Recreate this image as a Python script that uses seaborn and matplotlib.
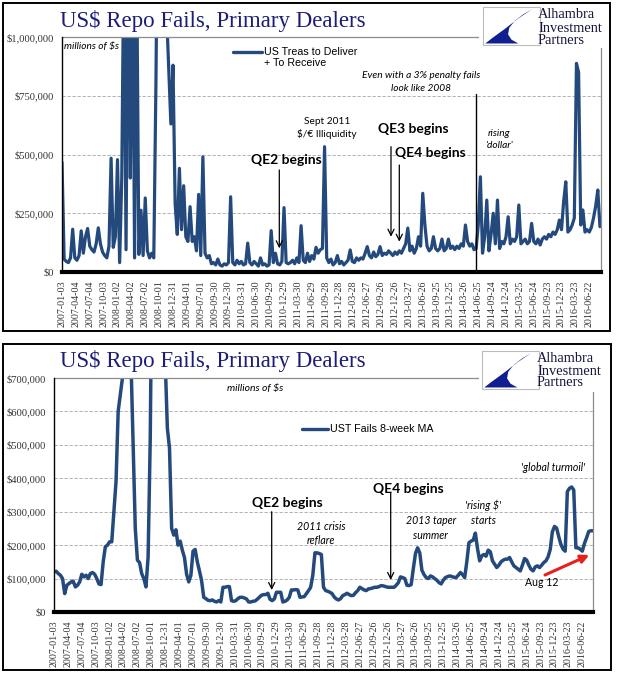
import numpy as np
import pandas as pd
import matplotlib
matplotlib.use("Agg")
import matplotlib.pyplot as plt
import seaborn as sns
from matplotlib.patches import Rectangle, Polygon, FancyArrowPatch
from matplotlib.lines import Line2D

sns.set_theme(style="white")
plt.rcParams['font.family'] = ['Liberation Serif', 'DejaVu Sans']

# ---------------- data ----------------
start = "2007-01-03"
dates = pd.date_range(start, periods=253, freq="14D")          # every other week
tick_dates = pd.date_range(start, periods=39, freq="91D")        # every 13 weeks
tick_labels = [d.strftime("%Y-%m-%d") for d in tick_dates]

# US Treas to Deliver + To Receive (thousands of $ millions)
fails_k = [
    467, 55, 45, 40, 60, 182, 60, 50, 70, 175,
    80, 150, 185, 110, 95, 85, 120, 188, 120, 85,
    70, 60, 110, 484, 105, 150, 478, 40, 400, 1400,
    95, 1500, 400, 1400, 60, 1300, 75, 263, 70, 315,
    90, 60, 80, 60, 800, 1800, 2000, 1700, 1200, 1100,
    870, 630, 880, 290, 160, 441, 180, 367, 150, 130,
    278, 130, 150, 90, 330, 70, 490, 80, 60, 70,
    35, 40, 30, 55, 30, 25, 35, 30, 40, 320,
    40, 30, 50, 35, 45, 30, 35, 123, 40, 30,
    45, 35, 25, 60, 30, 35, 25, 30, 176, 40,
    80, 35, 30, 45, 274, 40, 35, 40, 50, 35,
    60, 40, 197, 50, 40, 80, 45, 70, 55, 105,
    80, 95, 100, 533, 60, 40, 55, 30, 40, 70,
    35, 45, 30, 40, 50, 94, 45, 40, 60, 50,
    60, 55, 80, 108, 70, 60, 85, 65, 75, 108,
    70, 80, 75, 90, 80, 70, 85, 75, 90, 80,
    100, 120, 187, 90, 110, 80, 100, 150, 110, 335,
    200, 110, 90, 100, 150, 100, 90, 100, 140, 90,
    100, 140, 100, 110, 95, 110, 100, 120, 110, 200,
    130, 110, 120, 95, 100, 200, 405, 80, 150, 306,
    90, 160, 250, 120, 306, 100, 130, 120, 150, 235,
    120, 140, 130, 150, 285, 120, 130, 140, 120, 130,
    207, 130, 120, 140, 115, 140, 150, 140, 160, 150,
    170, 160, 180, 221, 180, 300, 384, 170, 180, 200,
    230, 888, 850, 200, 264, 170, 180, 170, 190, 230,
    280, 349, 193,
]

# UST Fails 8-week moving average (thousands of $ millions)
ma_k = [
    120, 122, 115, 110, 100, 55, 80, 85, 90, 92,
    75, 80, 90, 113, 105, 110, 100, 115, 118, 113,
    100, 84, 82, 150, 195, 200, 210, 210, 300, 390,
    600, 650, 700, 900, 1000, 900, 750, 500, 250, 155,
    148, 115, 100, 75, 165, 520, 1200, 1500, 1600, 1500,
    1300, 1000, 750, 550, 490, 250, 230, 246, 200, 212,
    185, 163, 113, 90, 110, 182, 187, 150, 123, 94,
    44, 40, 35, 34, 36, 32, 30, 34, 30, 74,
    74, 76, 76, 34, 32, 34, 40, 44, 44, 42,
    39, 30, 30, 32, 33, 38, 44, 50, 52, 52,
    56, 38, 34, 39, 59, 59, 59, 30, 32, 36,
    44, 66, 66, 67, 66, 44, 45, 46, 55, 64,
    74, 110, 177, 177, 175, 172, 74, 64, 62, 59,
    55, 45, 39, 36, 40, 49, 52, 56, 52, 49,
    50, 58, 64, 74, 70, 66, 64, 69, 70, 72,
    74, 74, 76, 79, 78, 76, 74, 74, 74, 74,
    80, 88, 105, 103, 100, 80, 79, 82, 130, 175,
    192, 177, 125, 112, 103, 100, 108, 105, 100, 95,
    88, 84, 95, 103, 106, 108, 106, 104, 103, 110,
    118, 112, 103, 150, 207, 212, 215, 236, 190, 153,
    168, 172, 167, 185, 180, 153, 143, 133, 140, 150,
    155, 158, 158, 163, 150, 138, 133, 128, 123, 140,
    160, 155, 140, 128, 123, 135, 138, 133, 140, 148,
    153, 165, 187, 240, 256, 251, 225, 202, 188, 182,
    360, 370, 374, 365, 192, 192, 188, 182, 205, 222,
    241, 243, 243,
]

top_yticks = [0, 250000, 500000, 750000, 1000000]
bot_yticks = [0, 100000, 200000, 300000, 400000, 500000, 600000, 700000]

# ---------------- figure ----------------
W, H = 618, 681
fig = plt.figure(figsize=(W / 100, H / 100), dpi=100)
fig.patch.set_facecolor("white")


def P(x, y):
    return (x / W, 1 - y / H)


BLUE = "#244a7d"
NAVY = "#1d1d78"
GRID = "#a6a6a6"
SANS = ['Liberation Sans', 'DejaVu Sans']
CAL = ['Lato', 'DejaVu Sans']

# panel frames
for (x0, y0, x1, y1) in [(3, 3, 610, 331), (3, 344, 611, 670)]:
    fig.add_artist(Rectangle(P(x0, y1), (x1 - x0) / W, (y1 - y0) / H,
                             transform=fig.transFigure, fill=False,
                             edgecolor="black", lw=1.4))


def make_axes(l, r, t, b):
    return fig.add_axes([l / W, 1 - b / H, (r - l) / W, (b - t) / H])


def style_axes(ax, yticks, ymax, top_frac, right_frac, xmax_weeks):
    ax.set_ylim(0, ymax)
    ax.set_xlim(pd.Timestamp(start), pd.Timestamp(start) + pd.Timedelta(weeks=xmax_weeks))
    ax.set_yticks(yticks)
    ax.set_yticklabels([f"${v:,.0f}" for v in yticks], fontsize=7.6, color="#333333")
    ax.set_xticks(tick_dates)
    ax.set_xticklabels(tick_labels, rotation=90, fontsize=7.2, color="#333333")
    ax.set_xlabel("")
    ax.set_ylabel("")
    for s in ["top", "right"]:
        ax.spines[s].set_visible(False)
    ax.spines["left"].set_color("black")
    ax.spines["left"].set_linewidth(1.0)
    ax.spines["bottom"].set_color("black")
    ax.spines["bottom"].set_linewidth(3.0)
    ax.tick_params(axis="x", direction="out", length=4, width=1, color="black", pad=2)
    ax.tick_params(axis="y", direction="out", length=4, width=1, color="black", pad=2)
    for v in yticks[1:-1]:
        ax.axhline(v, color=GRID, lw=0.6, ls=(0, (4, 2)), zorder=0)
    ax.plot([0, top_frac], [1, 1], transform=ax.transAxes, color="#8c8c8c",
            lw=0.9, clip_on=False)
    ax.plot([1, 1], [0, right_frac], transform=ax.transAxes, color="#8c8c8c",
            lw=0.9, clip_on=False)
    ax.grid(False)


def logo(x0, y0, w, h, tx, bases):
    fig.add_artist(Rectangle(P(x0, y0 + h), w / W, h / H, transform=fig.transFigure,
                             facecolor="white", edgecolor="#bbbbbb", lw=0.8))
    pts = [(0.86, 0.06), (0.62, 0.30), (0.38, 0.58), (0.16, 0.82), (0.04, 0.96),
           (0.62, 0.96), (0.50, 0.86), (0.44, 0.72), (0.46, 0.55), (0.56, 0.36),
           (0.70, 0.20)]
    poly = [P(x0 + u * w, y0 + v * h) for u, v in pts]
    fig.add_artist(Polygon(poly, closed=True, transform=fig.transFigure,
                           facecolor="#0f1f8f", edgecolor="none"))
    for word, b in zip(["Alhambra", "Investment", "Partners"], bases):
        fig.text(*P(tx, b), word, fontsize=10.4, color="#17173f", va="baseline",
                 ha="left", family=['Liberation Serif'])


def text(x, y, s, size=7.4, weight="normal", style="normal", ha="center", color="black", family=CAL):
    fig.text(*P(x, y), s, fontsize=size, fontweight=weight, fontstyle=style,
             ha=ha, va="center", color=color, family=family)


def arrow(x0, y0, x1, y1, color="black", lw=0.9, style="->", ms=11):
    fig.add_artist(FancyArrowPatch(P(x0, y0), P(x1, y1), transform=fig.transFigure,
                                   arrowstyle=style, mutation_scale=ms, lw=lw,
                                   color=color, shrinkA=0, shrinkB=0))


# ---------------- top panel ----------------
ax1 = make_axes(62, 601, 37, 272)
sns.lineplot(x=dates, y=np.array(fails_k) * 1000, ax=ax1, color=BLUE, lw=2.3)
style_axes(ax1, top_yticks, 1000000, (478 - 62) / 539, (272 - 48) / 235, 505)

fig.text(*P(60, 27), "US$ Repo Fails, Primary Dealers", fontsize=16.5, color=NAVY,
         va="baseline", ha="left", family=['Liberation Serif'])
logo(483, 7, 57, 38, 538, [18.5, 31.5, 43.5])

text(64, 46.7, "millions of $s", size=7.3, style="italic", ha="left")
fig.add_artist(Line2D([233 / W, 262 / W], [1 - 51.7 / H] * 2, color=BLUE, lw=2.4))
text(264, 51.7, "US Treas to Deliver", size=7.7, ha="left", family=SANS)
text(264, 62.7, "+ To Receive", size=7.7, ha="left", family=SANS)

text(327, 121.7, "Sept 2011", size=7.3)
text(327, 134.3, "$/€ Illiquidity", size=7.3)
text(286, 160, "QE2 begins", size=10, weight="bold")
arrow(279.3, 170, 279.3, 248.3)
text(413, 129.3, "QE3 begins", size=10, weight="bold")
text(430, 153.3, "QE4 begins", size=10, weight="bold")
arrow(391, 146.7, 391, 236.7)
arrow(399.3, 165, 399.3, 241.7)
text(421, 75.7, "Even with a 3% penalty fails", size=7.3, style="italic")
text(421, 88.7, "look like 2008", size=7.3, style="italic")
fig.add_artist(Line2D([476 / W] * 2, [1 - 94.3 / H, 1 - 272 / H], color="black", lw=1.0))
text(499, 133.3, "rising", size=7.3, style="italic")
text(499, 146, "'dollar'", size=7.3, style="italic")

# ---------------- bottom panel ----------------
ax2 = make_axes(54, 593, 378, 612)
sns.lineplot(x=dates, y=np.array(ma_k) * 1000, ax=ax2, color=BLUE, lw=2.5)
style_axes(ax2, bot_yticks, 700000, (478 - 54) / 539, (612 - 392) / 234, 504)

fig.text(*P(60, 367), "US$ Repo Fails, Primary Dealers", fontsize=16.5, color=NAVY,
         va="baseline", ha="left", family=['Liberation Serif'])
logo(482, 351, 57, 38, 537, [361.5, 374.5, 386.5])

text(255, 389, "millions of $s", size=7.5, style="italic")
fig.add_artist(Line2D([301.7 / W, 328 / W], [1 - 429 / H] * 2, color=BLUE, lw=2.4))
text(330, 429, "UST Fails 8-week MA", size=7.7, ha="left", family=SANS)

text(287, 503, "QE2 begins", size=10, weight="bold")
arrow(271.7, 511.7, 271.7, 590)
text(321, 526, "2011 crisis", size=7.6, style="italic")
text(321, 540.7, "reflare", size=7.6, style="italic")
text(408.7, 489.3, "QE4 begins", size=10, weight="bold")
arrow(390.7, 493, 390.7, 580)
text(430.7, 521, "2013 taper", size=7.6, style="italic")
text(430.7, 535.7, "summer", size=7.6, style="italic")
text(483.3, 505, "'rising $'", size=7.6, style="italic")
text(483.3, 520, "starts", size=7.6, style="italic")
text(553.3, 467.7, "'global turmoil'", size=7.6, style="italic")
text(541.7, 583, "Aug 12", size=7.6)
arrow(545, 575, 589.3, 555, color="#e8201c", lw=2.2, style="-|>", ms=12)

fig.savefig("out.png", dpi=100, facecolor="white")
